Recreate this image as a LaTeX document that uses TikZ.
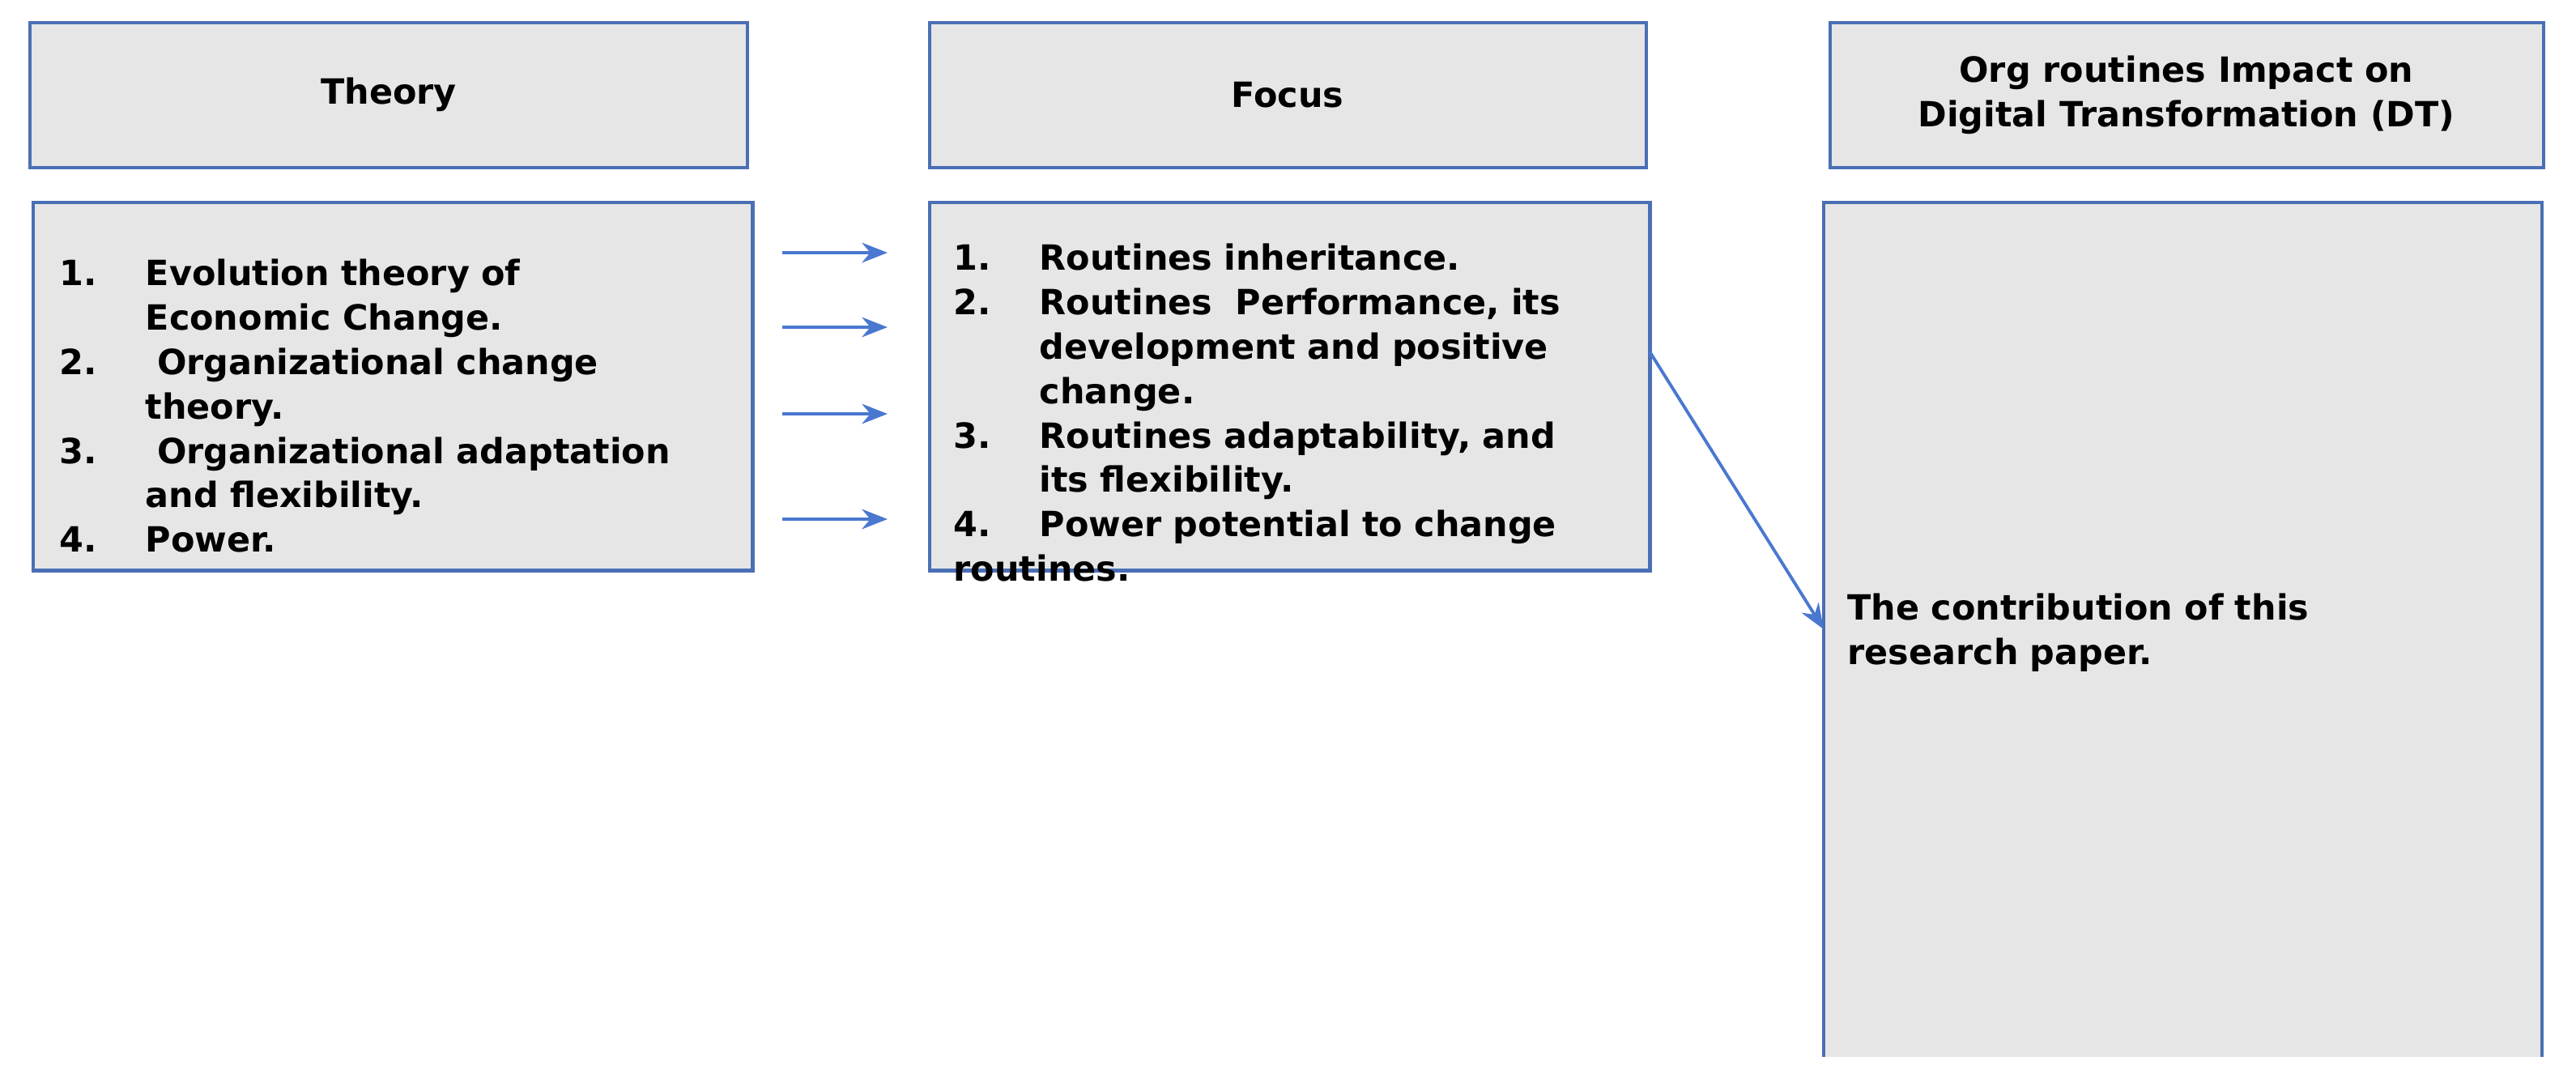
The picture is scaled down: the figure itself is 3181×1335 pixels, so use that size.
\documentclass[tikz,border=0pt]{standalone}
\usepackage{fontspec}
\setmainfont{DejaVu Sans}
\usetikzlibrary{arrows.meta}
\definecolor{boxblue}{HTML}{4A6FB5}
\definecolor{boxgray}{HTML}{E6E6E6}
\definecolor{arrblue}{HTML}{4A78D0}
\hyphenpenalty=10000
\exhyphenpenalty=10000
\newcommand{\itm}[2]{\par\hangindent=1.06cm\hangafter=1\noindent\makebox[1.06cm][l]{#1}#2}
\tikzset{
  boxstyle/.style={draw=boxblue, line width=1.3pt, fill=boxgray, inner sep=0pt, outer sep=0pt},
  txtstyle/.style={inner sep=0pt, align=left, font=\fontsize{12.2}{15.6}\selectfont\bfseries},
  arr/.style={-{Stealth[length=9pt,width=7pt]}, draw=arrblue, line width=1.1pt}
}
\begin{document}
\begin{tikzpicture}[x=0.01cm,y=-0.01cm]
                \useasboundingbox (0,0) rectangle (3181,1335);
                \path[boxstyle] (37,28) rectangle (923,207); \node[txtstyle] (h1) at (480,117) {Theory};
                \path[boxstyle] (1148,28) rectangle (2033,207); \node[txtstyle] (h2) at (1590,117) {Focus};
                \path[boxstyle] (2260,28) rectangle (3141,207); \node[txtstyle, align=center] (h3) at (2700,117) {Org routines Impact on\\Digital Transformation (DT)};

                \node[boxstyle, minimum width=8.88cm, minimum height=4.54cm, anchor=north west] (theory) at (41,250) {};
                \node[boxstyle, minimum width=8.89cm, minimum height=4.54cm, anchor=north west] (focus) at (1148,250) {};
                \path[fill=boxgray] (2252,250) rectangle (3139,1305);
                \draw[draw=boxblue, line width=1.3pt] (2252,1305) -- (2252,250) -- (3139,250) -- (3139,1305);
                \coordinate (fout) at (2037,434);
                \coordinate (paper) at (2252,777);

                \node[txtstyle, text width=8.1cm, anchor=north west] (tlist) at (73,297) {
                  \itm{1.}{Evolution theory of Economic Change.}
                  \itm{2.}{\ Organizational change theory.}
                  \itm{3.}{\ Organizational adaptation and flexibility.}
                  \itm{4.}{Power.}};
                \node[txtstyle, text width=7.9cm, anchor=north west] (flist) at (1177,278) {
                  \itm{1.}{Routines inheritance.}
                  \itm{2.}{Routines\ \ Performance, its development and positive change.}
                  \itm{3.}{Routines adaptability, and its flexibility.}
                  \itm{4.}{Power potential to change routines.}};
                \node[txtstyle, text width=7.2cm, anchor=north west] (contrib) at (2281,732) {The contribution of this research paper.};

                \foreach \i/\y in {1/312, 2/404, 3/511, 4/641} {
                  \coordinate (s\i) at (966,\y); \coordinate (e\i) at (1096,\y);
                  \draw[arr] (s\i) -- (e\i);
                }
                \draw[arr] (fout) -- (paper);
            \end{tikzpicture}
\end{document}
